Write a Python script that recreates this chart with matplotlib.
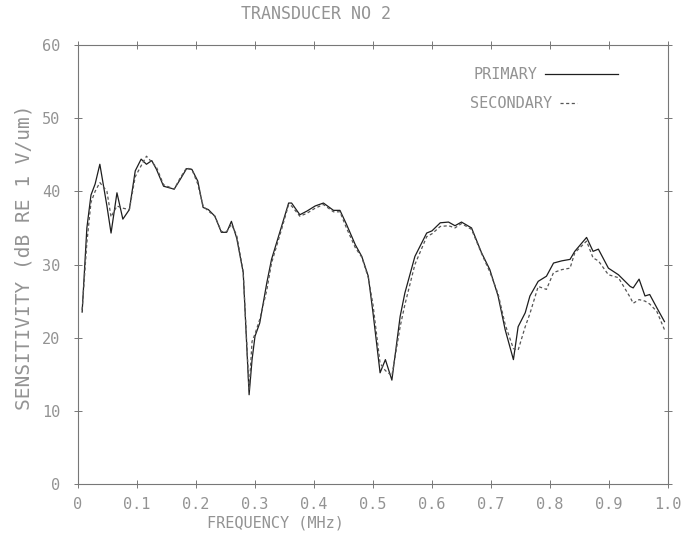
import numpy as np
import matplotlib
matplotlib.use("Agg")
import matplotlib.pyplot as plt

# Frequency (MHz) grid
freq = [0.007, 0.015, 0.022, 0.029, 0.037, 0.049, 0.056, 0.066, 0.076, 0.087,
        0.097, 0.107, 0.116, 0.125, 0.133, 0.145, 0.163, 0.173, 0.184, 0.193,
        0.203, 0.212, 0.221, 0.232, 0.243, 0.252, 0.26, 0.269, 0.28, 0.29,
        0.295, 0.30, 0.308, 0.32, 0.328, 0.345, 0.357, 0.362, 0.376, 0.388,
        0.402, 0.416, 0.433, 0.444, 0.455, 0.47, 0.481, 0.492, 0.50, 0.512,
        0.521, 0.532, 0.546, 0.554, 0.571, 0.591, 0.60, 0.614, 0.628, 0.639,
        0.65, 0.667, 0.684, 0.698, 0.712, 0.724, 0.738, 0.746, 0.758, 0.766,
        0.78, 0.794, 0.806, 0.82, 0.834, 0.842, 0.862, 0.873, 0.882, 0.899,
        0.916, 0.936, 0.941, 0.951, 0.961, 0.969, 0.981, 0.994]

# Sensitivity (dB re 1 V/um)
primary = [23.5, 35, 39.5, 41, 43.7, 38, 34.3, 39.8, 36.2, 37.5,
           42.8, 44.4, 43.7, 44.2, 43.0, 40.7, 40.3, 41.6, 43.1, 43.0,
           41.4, 37.8, 37.5, 36.6, 34.4, 34.4, 35.9, 33.6, 28.9, 12.2,
           17, 20.2, 22, 27.5, 30.7, 35.2, 38.4, 38.4, 36.8, 37.3,
           38.0, 38.4, 37.4, 37.4, 35.5, 32.7, 31.1, 28.4, 23.4, 15.2,
           17, 14.2, 22.9, 26.1, 31.1, 34.3, 34.6, 35.7, 35.8, 35.3,
           35.8, 35.0, 31.6, 29.3, 25.7, 21.1, 17.0, 21.5, 23.4, 25.7,
           27.7, 28.4, 30.2, 30.5, 30.7, 31.8, 33.7, 31.8, 32.1, 29.5,
           28.6, 27.0, 26.8, 28.0, 25.7, 25.9, 24.1, 22.2]

secondary = [23.8, 33, 38.5, 40, 41.2, 40, 36.5, 38.0, 37.7, 37.5,
             42.0, 43.5, 44.8, 44.0, 43.3, 40.9, 40.3, 41.8, 43.2, 43.0,
             41.0, 38.0, 37.3, 36.6, 34.5, 34.5, 35.5, 34.0, 29.0, 12.8,
             19.5, 20.5, 22.5, 26.5, 30.2, 34.8, 38.2, 38.0, 36.6, 37.0,
             37.7, 38.2, 37.2, 37.2, 35.0, 32.3, 31.0, 28.2, 24.5, 16.5,
             15.5, 14.8, 21.5, 24.5, 30.0, 33.8, 34.2, 35.2, 35.3, 35.0,
             35.6, 34.8, 31.5, 29.0, 26.0, 21.8, 18.5, 18.3, 21.5, 23.3,
             27.0, 26.6, 28.9, 29.3, 29.5, 31.6, 33.2, 30.9, 30.5, 28.6,
             28.2, 25.5, 24.7, 25.2, 25.0, 24.6, 23.6, 21.1]

xticks = [0, 0.1, 0.2, 0.3, 0.4, 0.5, 0.6, 0.7, 0.8, 0.9, 1.0]
xticklabels = ["0", "0.1", "0.2", "0.3", "0.4", "0.5", "0.6", "0.7", "0.8", "0.9", "1.0"]
yticks = [0, 10, 20, 30, 40, 50, 60]

txt = "#939393"
plt.rcParams['font.family'] = ['DejaVu Sans Mono']

fig = plt.figure(figsize=(6.91, 5.35), dpi=100)
ax = fig.add_axes([0.1129, 0.0953, 0.8538, 0.8206])

l1, = ax.plot(freq, primary, color="#1e1e1e", lw=0.9, label="PRIMARY")
l2, = ax.plot(freq, secondary, color="#555555", lw=0.9, ls=(0, (2.5, 2)), label="SECONDARY")

ax.set_xlim(0, 1.0)
ax.set_ylim(0, 60)
ax.set_xticks(xticks)
ax.set_xticklabels(xticklabels)
ax.set_yticks(yticks)
ax.tick_params(direction="inout", length=6, width=0.7, color="#777777",
               labelcolor=txt, labelsize=11, top=True, right=True)
ax.tick_params(axis="x", pad=6)
ax.tick_params(axis="y", pad=10)
for s in ax.spines.values():
    s.set_color("#777777")
    s.set_linewidth(0.8)

ax.set_title("TRANSDUCER NO 2", color=txt, fontsize=12, pad=19, x=0.403)
ax.set_xlabel("FREQUENCY (MHz)", color=txt, fontsize=11, labelpad=3, x=0.334)
ax.set_ylabel("SENSITIVITY (dB RE 1 V/um)", color=txt, fontsize=14, labelpad=6, y=0.517)

# legend: long solid handle, short dashed handle, as in the original plot
leg1 = ax.legend([l1], ["PRIMARY"], loc="upper right", bbox_to_anchor=(0.915, 0.95),
                 frameon=False, markerfirst=False, fontsize=11, handlelength=4.8,
                 handletextpad=0.45, borderpad=0, borderaxespad=0, labelcolor=txt)
ax.add_artist(leg1)
ax.legend([l2], ["SECONDARY"], loc="upper right", bbox_to_anchor=(0.846, 0.884),
          frameon=False, markerfirst=False, fontsize=11, handlelength=1.15,
          handletextpad=0.5, borderpad=0, borderaxespad=0, labelcolor=txt)

fig.savefig("out.png", dpi=100)
